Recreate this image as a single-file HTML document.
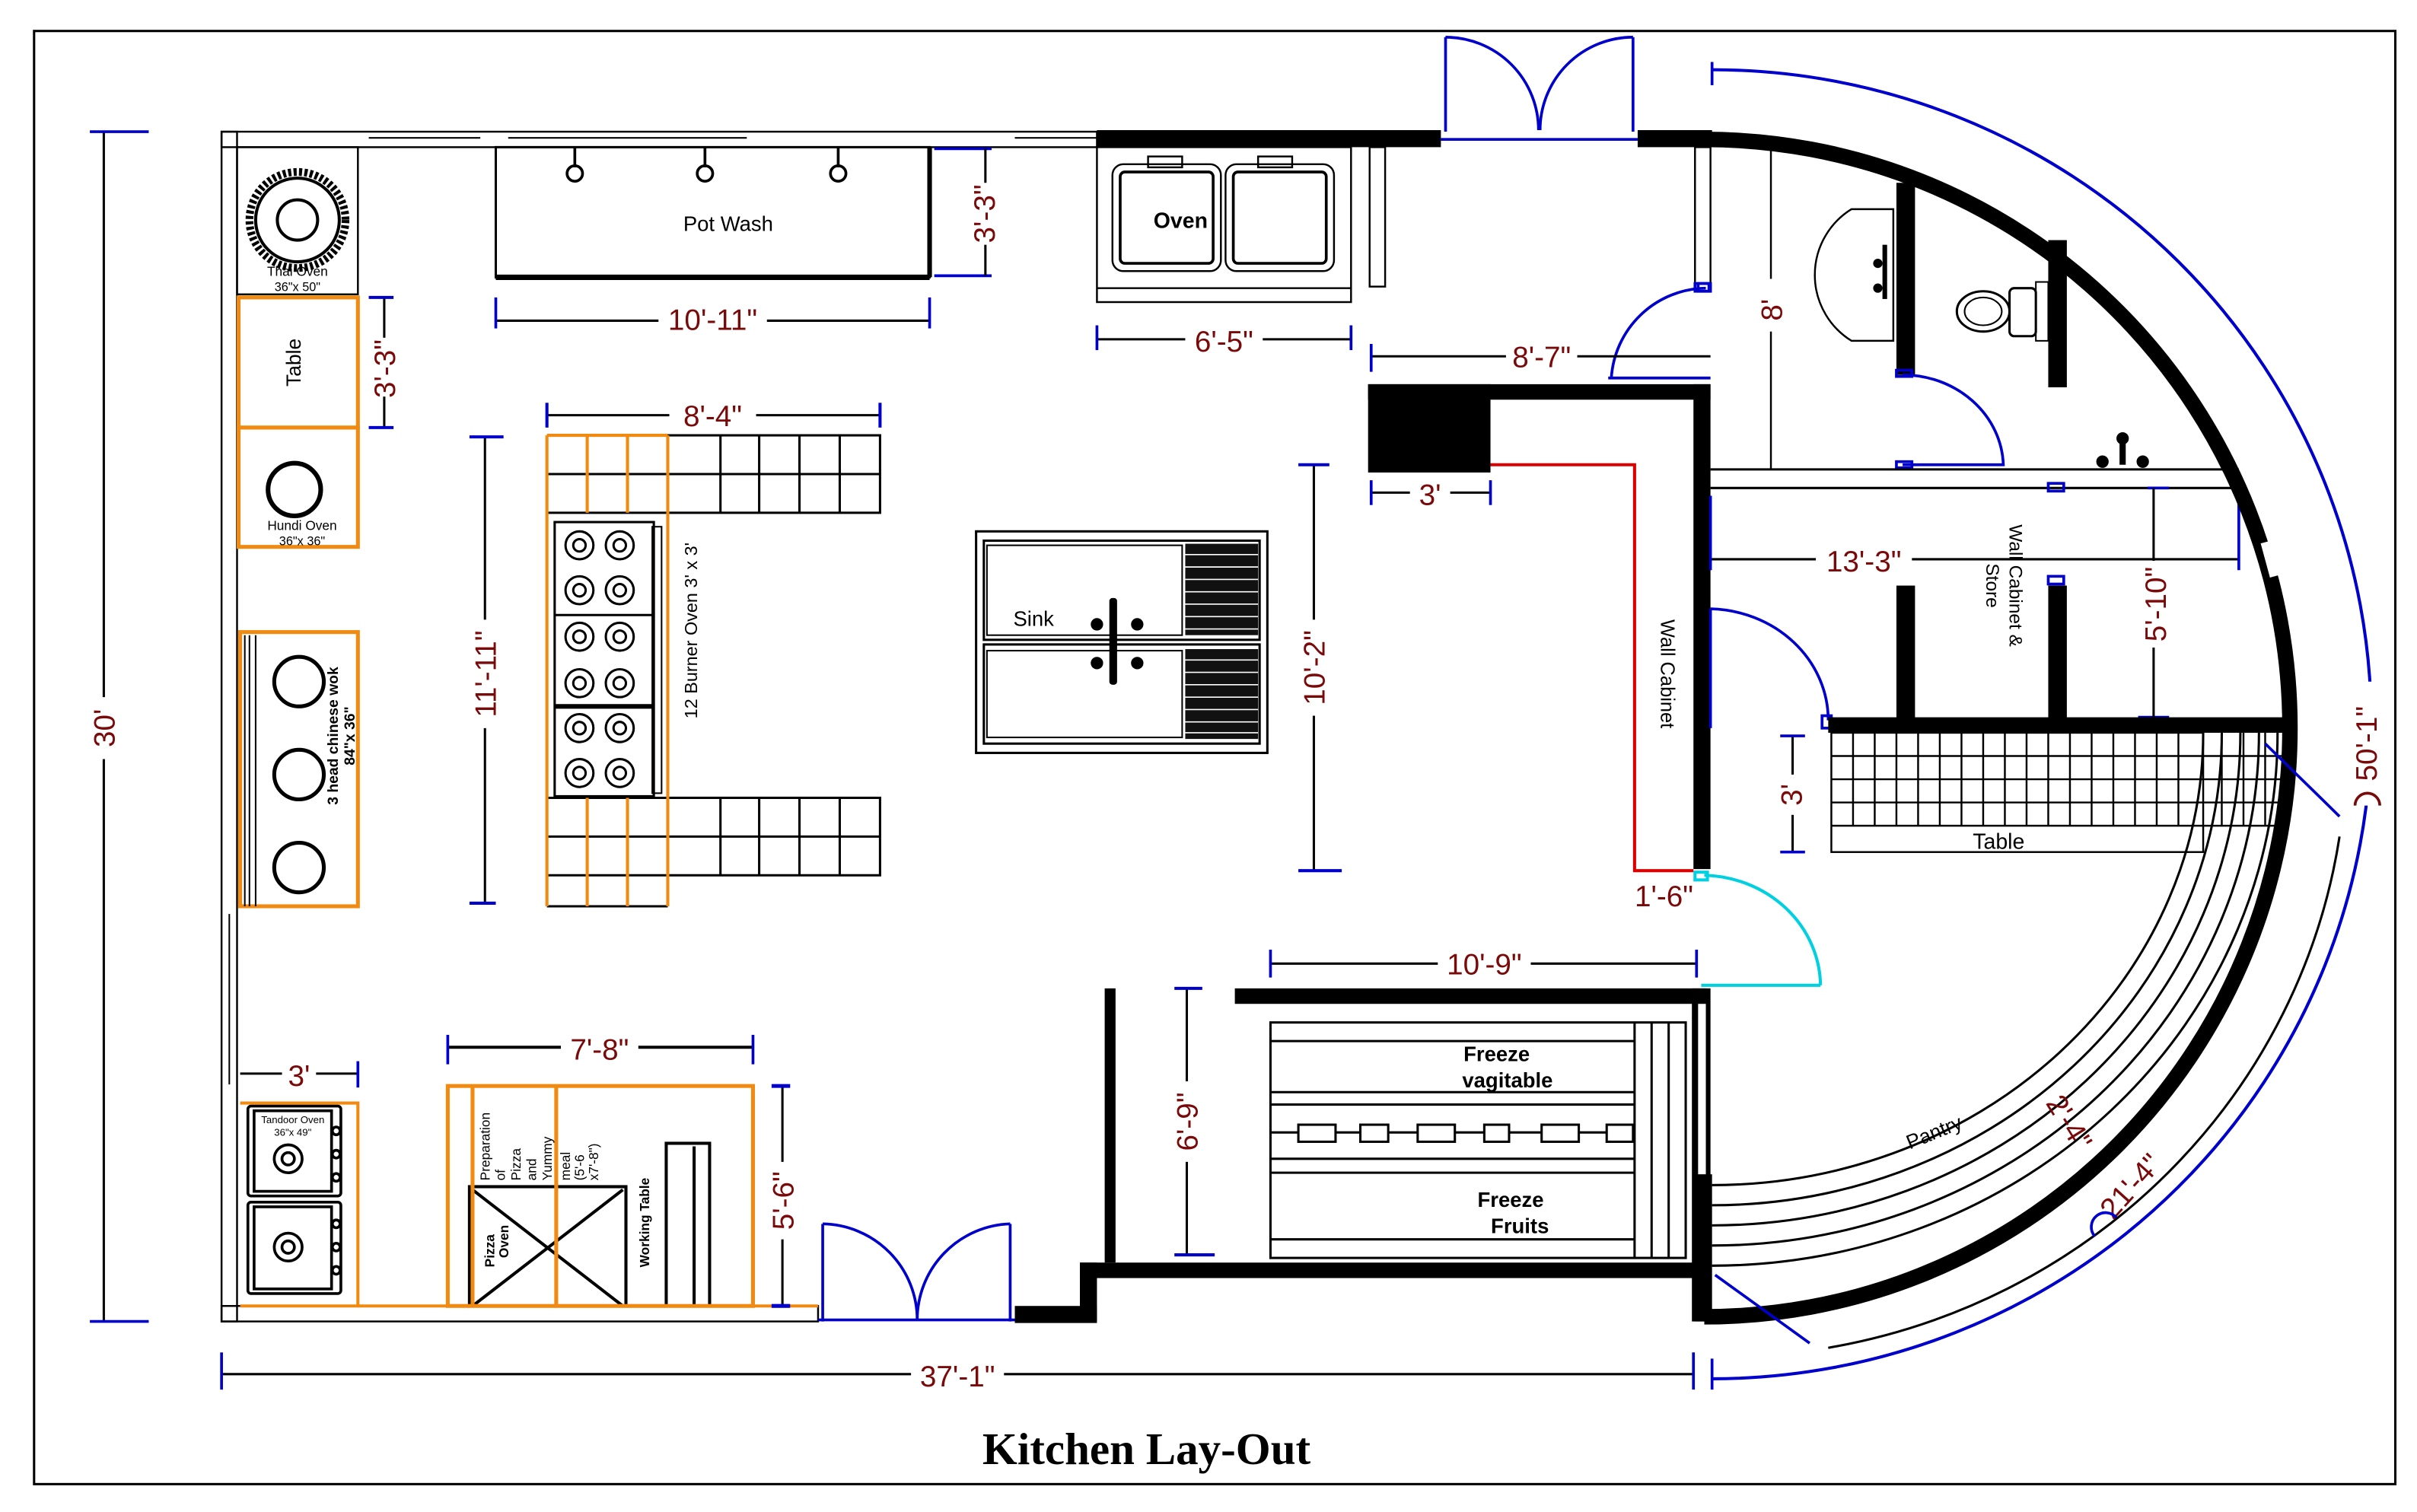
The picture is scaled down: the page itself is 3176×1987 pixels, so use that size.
<!DOCTYPE html>
<html><head><meta charset="utf-8"><style>
html,body{margin:0;padding:0;background:#fff;}
svg{display:block;}
.d{fill:#7a0a0a;font-family:"Liberation Sans",sans-serif;font-size:19px;}
.s{font-family:"Liberation Sans",sans-serif;fill:#000;}
</style></head><body>
<svg width="3176" height="1987" viewBox="0 0 1560 976" preserveAspectRatio="none" xmlns="http://www.w3.org/2000/svg">
<rect x="0" y="0" width="1560" height="976" fill="#fff"/>
<rect x="22" y="20" width="1524" height="938" fill="none" stroke="#000" stroke-width="1.5"/>

<!-- top wall -->
<rect x="143" y="85" width="565" height="10" fill="none" stroke="#000" stroke-width="1.2"/>
<line x1="238" y1="89" x2="310" y2="89" stroke="#000"/><line x1="328" y1="89" x2="482" y2="89" stroke="#000"/><line x1="655" y1="89" x2="708" y2="89" stroke="#000"/>
<rect x="708" y="84" width="222" height="11" fill="#000"/>
<rect x="1057" y="84" width="48" height="11" fill="#000"/>
<!-- top door -->
<g stroke="#0000cc" stroke-width="1.8" fill="none">
<line x1="930" y1="90" x2="1057" y2="90"/>
<line x1="933" y1="85" x2="933" y2="24"/><path d="M933,24 A60,60 0 0 1 993,84"/>
<line x1="1054" y1="85" x2="1054" y2="24"/><path d="M1054,24 A60,60 0 0 0 994,84"/>
</g>
<!-- left wall -->
<rect x="143" y="85" width="10" height="768" fill="none" stroke="#000" stroke-width="1.2"/>
<line x1="148" y1="590" x2="148" y2="700" stroke="#000"/>
<!-- bottom wall -->
<rect x="143" y="843" width="385" height="10" fill="none" stroke="#000" stroke-width="1.2"/>
<rect x="655" y="843" width="53" height="11" fill="#000"/>
<rect x="697" y="815" width="11" height="38" fill="#000"/>
<rect x="697" y="815" width="404" height="10" fill="#000"/>
<rect x="713" y="638" width="7" height="177" fill="#000"/>
<rect x="797" y="638" width="304" height="10" fill="#000"/>
<rect x="1092" y="638" width="12" height="215" fill="#000"/>
<rect x="1096" y="648" width="5" height="160" fill="#fff"/>
<!-- bottom door -->
<g stroke="#0000cc" stroke-width="1.8" fill="none">
<line x1="528" y1="852" x2="655" y2="852"/>
<line x1="531" y1="853" x2="531" y2="790"/><path d="M531,790 A62,62 0 0 1 592,852"/>
<line x1="652" y1="853" x2="652" y2="790"/><path d="M652,790 A62,62 0 0 0 592,852"/>
</g>

<!-- dims: bottom & left -->
<g stroke="#000" stroke-width="1.5"><line x1="143" y1="887" x2="1093" y2="887"/><line x1="67" y1="85" x2="67" y2="853"/></g>
<g stroke="#0000cc" stroke-width="1.8"><line x1="143" y1="873" x2="143" y2="897"/><line x1="1093" y1="873" x2="1093" y2="897"/><line x1="1105" y1="877" x2="1105" y2="897"/><line x1="58" y1="85" x2="96" y2="85"/><line x1="58" y1="853" x2="96" y2="853"/></g>
<rect x="588" y="878" width="60" height="18" fill="#fff"/><text x="618" y="895" class="d" text-anchor="middle">37'-1"</text>
<rect x="58" y="450" width="18" height="40" fill="#fff"/><text class="d" transform="translate(74,470) rotate(-90)" text-anchor="middle">30'</text>

<!-- Thai oven -->
<rect x="153" y="95" width="78" height="95" fill="none" stroke="#000" stroke-width="1.2"/>
<circle cx="192" cy="142" r="31" fill="none" stroke="#000" stroke-width="5" stroke-dasharray="2 1.5"/>
<circle cx="192" cy="142" r="27" fill="none" stroke="#000" stroke-width="2"/>
<circle cx="192" cy="142" r="13" fill="#fff" stroke="#000" stroke-width="2"/>
<text x="192" y="178" class="s" font-size="8.5" text-anchor="middle">Thai Oven</text>
<text x="192" y="188" class="s" font-size="8" text-anchor="middle">36"x 50"</text>
<!-- Table -->
<rect x="154" y="192" width="77" height="84" fill="none" stroke="#f08a10" stroke-width="2.5"/>
<text class="s" font-size="13" transform="translate(194,234) rotate(-90)" text-anchor="middle">Table</text>
<line x1="248" y1="192" x2="248" y2="276" stroke="#000" stroke-width="1.5"/>
<g stroke="#0000cc" stroke-width="2"><line x1="238" y1="192" x2="254" y2="192"/><line x1="238" y1="276" x2="254" y2="276"/></g>
<rect x="240" y="218" width="16" height="38" fill="#fff"/><text class="d" transform="translate(255,238) rotate(-90)" text-anchor="middle">3'-3"</text>
<!-- Hundi -->
<rect x="154" y="276" width="77" height="77" fill="none" stroke="#f08a10" stroke-width="2.5"/>
<circle cx="190" cy="316" r="17" fill="none" stroke="#000" stroke-width="3"/>
<text x="195" y="342" class="s" font-size="8.5" text-anchor="middle">Hundi Oven</text>
<text x="195" y="352" class="s" font-size="8" text-anchor="middle">36"x 36"</text>
<!-- Wok -->
<rect x="155" y="408" width="76" height="177" fill="none" stroke="#f08a10" stroke-width="2.5"/>
<line x1="158" y1="410" x2="158" y2="585" stroke="#000"/><line x1="161" y1="410" x2="161" y2="585" stroke="#000"/><line x1="165" y1="410" x2="165" y2="585" stroke="#000"/>
<circle cx="193" cy="440" r="16" fill="none" stroke="#000" stroke-width="2.5"/>
<circle cx="193" cy="500" r="16" fill="none" stroke="#000" stroke-width="2.5"/>
<circle cx="193" cy="560" r="16" fill="none" stroke="#000" stroke-width="2.5"/>
<text class="s" font-size="9.5" font-weight="bold" transform="translate(218,475) rotate(-90)" text-anchor="middle">3 head chinese wok</text>
<text class="s" font-size="9.5" font-weight="bold" transform="translate(229,475) rotate(-90)" text-anchor="middle">84"x 36"</text>

<!-- 11'-11" -->
<line x1="313" y1="282" x2="313" y2="583" stroke="#000" stroke-width="1.5"/>
<g stroke="#0000cc" stroke-width="2"><line x1="303" y1="282" x2="325" y2="282"/><line x1="303" y1="583" x2="320" y2="583"/></g>
<rect x="300" y="400" width="26" height="70" fill="#fff"/><text class="d" font-size="21" transform="translate(320,435) rotate(-90)" text-anchor="middle">11'-11"</text>
<!-- 8'-4" -->
<line x1="353" y1="268" x2="568" y2="268" stroke="#000" stroke-width="1.5"/>
<g stroke="#0000cc" stroke-width="2"><line x1="353" y1="260" x2="353" y2="276"/><line x1="568" y1="260" x2="568" y2="276"/></g>
<rect x="432" y="258" width="56" height="20" fill="#fff"/><text x="460" y="275" class="d" text-anchor="middle">8'-4"</text>
<!-- grids -->
<g fill="none" stroke="#000" stroke-width="1.5">
<rect x="431" y="281" width="137" height="50"/><line x1="353" y1="306" x2="568" y2="306"/>
<line x1="465" y1="281" x2="465" y2="331"/><line x1="490" y1="281" x2="490" y2="331"/><line x1="516" y1="281" x2="516" y2="331"/><line x1="542" y1="281" x2="542" y2="331"/>
<line x1="353" y1="331" x2="431" y2="331"/>
<rect x="431" y="515" width="137" height="50"/><line x1="353" y1="540" x2="568" y2="540"/><line x1="353" y1="515" x2="431" y2="515"/><line x1="353" y1="565" x2="431" y2="565"/><line x1="353" y1="585" x2="431" y2="585"/>
<line x1="465" y1="515" x2="465" y2="565"/><line x1="490" y1="515" x2="490" y2="565"/><line x1="516" y1="515" x2="516" y2="565"/><line x1="542" y1="515" x2="542" y2="565"/>
</g>
<g stroke="#f08a10" stroke-width="2">
<line x1="353" y1="281" x2="431" y2="281"/><line x1="353" y1="281" x2="353" y2="585"/><line x1="379" y1="281" x2="379" y2="331"/><line x1="405" y1="281" x2="405" y2="331"/><line x1="431" y1="281" x2="431" y2="585"/>
<line x1="379" y1="515" x2="379" y2="585"/><line x1="405" y1="515" x2="405" y2="585"/>
</g>
<!-- burners -->
<rect x="358" y="337" width="64" height="177" fill="#fff" stroke="#000" stroke-width="1.5"/>
<rect x="421" y="340" width="6" height="172" fill="none" stroke="#000"/>
<g fill="none" stroke="#000" stroke-width="1.5">
<circle cx="374" cy="352" r="9"/><circle cx="400" cy="352" r="9"/><circle cx="374" cy="381" r="9"/><circle cx="400" cy="381" r="9"/>
<circle cx="374" cy="411" r="9"/><circle cx="400" cy="411" r="9"/><circle cx="374" cy="441" r="9"/><circle cx="400" cy="441" r="9"/>
<circle cx="374" cy="470" r="9"/><circle cx="400" cy="470" r="9"/><circle cx="374" cy="499" r="9"/><circle cx="400" cy="499" r="9"/>
<circle cx="374" cy="352" r="4"/><circle cx="400" cy="352" r="4"/><circle cx="374" cy="381" r="4"/><circle cx="400" cy="381" r="4"/>
<circle cx="374" cy="411" r="4"/><circle cx="400" cy="411" r="4"/><circle cx="374" cy="441" r="4"/><circle cx="400" cy="441" r="4"/>
<circle cx="374" cy="470" r="4"/><circle cx="400" cy="470" r="4"/><circle cx="374" cy="499" r="4"/><circle cx="400" cy="499" r="4"/>
<line x1="358" y1="397" x2="422" y2="397"/><line x1="358" y1="456" x2="422" y2="456" stroke-width="3"/>
</g>
<text class="s" font-size="11.5" transform="translate(450,407) rotate(-90)" text-anchor="middle">12 Burner Oven 3' x 3'</text>

<!-- Pot wash -->
<rect x="320" y="95" width="280" height="84" fill="none" stroke="#000" stroke-width="1.5"/>
<line x1="320" y1="179" x2="600" y2="179" stroke="#000" stroke-width="3.5"/><line x1="600" y1="95" x2="600" y2="179" stroke="#000" stroke-width="3"/>
<g fill="none" stroke="#000" stroke-width="1.8">
<line x1="371" y1="95" x2="371" y2="108"/><circle cx="371" cy="112" r="5"/>
<line x1="455" y1="95" x2="455" y2="108"/><circle cx="455" cy="112" r="5"/>
<line x1="541" y1="95" x2="541" y2="108"/><circle cx="541" cy="112" r="5"/></g>
<text x="470" y="149" class="s" font-size="13.5" text-anchor="middle">Pot Wash</text>
<line x1="320" y1="207" x2="600" y2="207" stroke="#000" stroke-width="1.5"/>
<g stroke="#0000cc" stroke-width="1.8"><line x1="320" y1="192" x2="320" y2="212"/><line x1="600" y1="192" x2="600" y2="212"/><line x1="603" y1="178" x2="640" y2="178"/><line x1="603" y1="96" x2="640" y2="96"/></g>
<rect x="425" y="196" width="70" height="20" fill="#fff"/><text x="460" y="213" class="d" text-anchor="middle">10'-11"</text>
<line x1="636" y1="96" x2="636" y2="178" stroke="#000" stroke-width="1.5"/>
<rect x="626" y="118" width="20" height="40" fill="#fff"/><text class="d" transform="translate(642,138) rotate(-90)" text-anchor="middle">3'-3"</text>

<!-- Oven -->
<g fill="none" stroke="#000" stroke-width="1.2">
<rect x="708" y="95" width="164" height="100"/><line x1="708" y1="186" x2="872" y2="186"/>
<rect x="718" y="106" width="70" height="69" rx="7"/><rect x="723" y="111" width="60" height="59" rx="3" stroke-width="1.8"/>
<rect x="791" y="106" width="70" height="69" rx="7"/><rect x="796" y="111" width="60" height="59" rx="3" stroke-width="1.8"/>
<rect x="741" y="101" width="22" height="7"/><rect x="812" y="101" width="22" height="7"/>
<rect x="884" y="95" width="10" height="90"/>
</g>
<text x="762" y="147" class="s" font-size="14" font-weight="bold" text-anchor="middle">Oven</text>
<line x1="708" y1="219" x2="872" y2="219" stroke="#000" stroke-width="1.5"/>
<g stroke="#0000cc" stroke-width="1.8"><line x1="708" y1="210" x2="708" y2="226"/><line x1="872" y1="210" x2="872" y2="226"/></g>
<rect x="765" y="210" width="50" height="20" fill="#fff"/><text x="790" y="227" class="d" text-anchor="middle">6'-5"</text>

<!-- right upper walls -->
<rect x="1094" y="95" width="10" height="93" fill="none" stroke="#000" stroke-width="1.2"/>
<g fill="none" stroke="#0000cc" stroke-width="1.8">
<line x1="1038" y1="244" x2="1104" y2="244"/><path d="M1040,244 A62,62 0 0 1 1101,186"/>
<rect x="1096" y="183" width="7" height="5"/></g>
<line x1="885" y1="230" x2="1104" y2="230" stroke="#000" stroke-width="1.5"/>
<g stroke="#0000cc" stroke-width="1.8"><line x1="885" y1="222" x2="885" y2="240"/></g>
<rect x="972" y="220" width="46" height="20" fill="#fff"/><text x="995" y="237" class="d" text-anchor="middle">8'-7"</text>
<rect x="883" y="248" width="221" height="10" fill="#000"/>
<rect x="883" y="248" width="79" height="57" fill="#000"/>
<rect x="1093" y="248" width="11" height="313" fill="#000"/>
<polyline points="962,300 1055,300 1055,562 1093,562" fill="none" stroke="#dd0000" stroke-width="2"/>
<line x1="885" y1="318" x2="962" y2="318" stroke="#000" stroke-width="1.5"/>
<g stroke="#0000cc" stroke-width="1.8"><line x1="885" y1="310" x2="885" y2="326"/><line x1="962" y1="310" x2="962" y2="326"/></g>
<rect x="910" y="308" width="26" height="20" fill="#fff"/><text x="923" y="326" class="d" text-anchor="middle">3'</text>
<text class="s" font-size="12.5" transform="translate(1072,435) rotate(90)" text-anchor="middle">Wall Cabinet</text>
<!-- 10'-2" -->
<line x1="848" y1="300" x2="848" y2="562" stroke="#000" stroke-width="1.5"/>
<g stroke="#0000cc" stroke-width="2"><line x1="838" y1="300" x2="858" y2="300"/><line x1="838" y1="562" x2="866" y2="562"/></g>
<rect x="838" y="400" width="20" height="62" fill="#fff"/><text class="d" transform="translate(855,431) rotate(-90)" text-anchor="middle">10'-2"</text>

<!-- Sink -->
<g fill="none" stroke="#000" stroke-width="1.5">
<rect x="630" y="343" width="188" height="143"/>
<rect x="635" y="349" width="178" height="64"/><rect x="635" y="416" width="178" height="64"/>
<rect x="637" y="352" width="126" height="58" stroke-width="1"/><rect x="637" y="420" width="126" height="56" stroke-width="1"/>
</g>
<rect x="765" y="351" width="47" height="59" fill="#111"/><rect x="765" y="419" width="47" height="58" fill="#111"/>
<g stroke="#fff" stroke-width="0.8">
<line x1="765" y1="358" x2="812" y2="358"/><line x1="765" y1="366" x2="812" y2="366"/><line x1="765" y1="374" x2="812" y2="374"/><line x1="765" y1="382" x2="812" y2="382"/><line x1="765" y1="390" x2="812" y2="390"/><line x1="765" y1="398" x2="812" y2="398"/><line x1="765" y1="406" x2="812" y2="406"/>
<line x1="765" y1="426" x2="812" y2="426"/><line x1="765" y1="434" x2="812" y2="434"/><line x1="765" y1="442" x2="812" y2="442"/><line x1="765" y1="450" x2="812" y2="450"/><line x1="765" y1="458" x2="812" y2="458"/><line x1="765" y1="466" x2="812" y2="466"/><line x1="765" y1="473" x2="812" y2="473"/>
</g>
<g fill="#000"><rect x="716" y="386" width="5" height="56" rx="2"/><circle cx="708" cy="403" r="4"/><circle cx="734" cy="403" r="4"/><circle cx="708" cy="428" r="4"/><circle cx="734" cy="428" r="4"/></g>
<text x="654" y="404" class="s" font-size="13.5">Sink</text>

<!-- 1'-6" and cyan door -->
<text x="1074" y="585" class="d" font-size="17" text-anchor="middle">1'-6"</text>
<g fill="none" stroke="#00d0e0" stroke-width="2">
<line x1="1098" y1="636" x2="1175" y2="636"/><path d="M1175,636 A77,72 0 0 0 1100,565"/><rect x="1094" y="563" width="8" height="5"/></g>
<!-- 10'-9" -->
<line x1="820" y1="622" x2="1095" y2="622" stroke="#000" stroke-width="1.5"/>
<g stroke="#0000cc" stroke-width="1.8"><line x1="820" y1="613" x2="820" y2="631"/><line x1="1095" y1="613" x2="1095" y2="631"/></g>
<rect x="928" y="612" width="60" height="20" fill="#fff"/><text x="958" y="629" class="d" text-anchor="middle">10'-9"</text>
<!-- 6'-9" -->
<line x1="766" y1="638" x2="766" y2="810" stroke="#000" stroke-width="1.5"/>
<g stroke="#0000cc" stroke-width="2"><line x1="758" y1="638" x2="776" y2="638"/><line x1="758" y1="810" x2="784" y2="810"/></g>
<rect x="756" y="698" width="20" height="52" fill="#fff"/><text class="d" transform="translate(773,724) rotate(-90)" text-anchor="middle">6'-9"</text>
<!-- Freezer -->
<g fill="none" stroke="#000" stroke-width="1.5">
<rect x="820" y="660" width="268" height="152"/>
<line x1="820" y1="672" x2="1055" y2="672"/><line x1="820" y1="705" x2="1055" y2="705"/><line x1="820" y1="713" x2="1055" y2="713"/>
<line x1="820" y1="748" x2="1055" y2="748"/><line x1="820" y1="757" x2="1055" y2="757"/><line x1="820" y1="800" x2="1055" y2="800"/>
<line x1="1055" y1="660" x2="1055" y2="812"/><line x1="1066" y1="660" x2="1066" y2="812"/><line x1="1077" y1="660" x2="1077" y2="812"/>
<line x1="820" y1="731" x2="1055" y2="731"/>
</g>
<g fill="#fff" stroke="#000" stroke-width="1.5">
<rect x="838" y="726" width="24" height="11"/><rect x="878" y="726" width="18" height="11"/><rect x="915" y="726" width="24" height="11"/><rect x="958" y="726" width="16" height="11"/><rect x="995" y="726" width="24" height="11"/><rect x="1037" y="726" width="17" height="11"/>
</g>
<text x="966" y="685" class="s" font-size="13.5" font-weight="bold" text-anchor="middle">Freeze</text>
<text x="973" y="702" class="s" font-size="13.5" font-weight="bold" text-anchor="middle">vagitable</text>
<text x="975" y="779" class="s" font-size="13.5" font-weight="bold" text-anchor="middle">Freeze</text>
<text x="981" y="796" class="s" font-size="13.5" font-weight="bold" text-anchor="middle">Fruits</text>

<!-- bottom-left -->
<line x1="155" y1="693" x2="231" y2="693" stroke="#000" stroke-width="1.5"/>
<g stroke="#0000cc" stroke-width="1.8"><line x1="231" y1="685" x2="231" y2="702"/></g>
<rect x="182" y="683" width="22" height="20" fill="#fff"/><text x="193" y="701" class="d" text-anchor="middle">3'</text>
<polyline points="155,712 231,712 231,843 155,843" fill="none" stroke="#f08a10" stroke-width="2"/>
<line x1="231" y1="843" x2="528" y2="843" stroke="#f08a10" stroke-width="2"/>
<g fill="none" stroke="#000" stroke-width="1.8">
<rect x="160" y="714" width="60" height="58" rx="2"/><rect x="164" y="717" width="50" height="52"/>
<rect x="160" y="776" width="60" height="59" rx="2"/><rect x="164" y="779" width="50" height="53"/>
<circle cx="186" cy="748" r="9"/><circle cx="186" cy="748" r="4"/><circle cx="186" cy="805" r="9"/><circle cx="186" cy="805" r="4"/>
<circle cx="217" cy="730" r="2.5"/><circle cx="217" cy="745" r="2.5"/><circle cx="217" cy="760" r="2.5"/>
<circle cx="217" cy="790" r="2.5"/><circle cx="217" cy="805" r="2.5"/><circle cx="217" cy="820" r="2.5"/>
</g>
<text x="189" y="725" class="s" font-size="6.5" text-anchor="middle">Tandoor Oven</text>
<text x="189" y="733" class="s" font-size="6.5" text-anchor="middle">36"x 49"</text>
<line x1="289" y1="676" x2="486" y2="676" stroke="#000" stroke-width="2"/>
<g stroke="#0000cc" stroke-width="1.8"><line x1="289" y1="668" x2="289" y2="687"/><line x1="486" y1="668" x2="486" y2="687"/></g>
<rect x="362" y="666" width="50" height="22" fill="#fff"/><text x="387" y="684" class="d" text-anchor="middle">7'-8"</text>
<g fill="none" stroke="#000" stroke-width="2">
<rect x="303" y="766" width="101" height="77"/><line x1="305" y1="768" x2="402" y2="843"/><line x1="402" y1="768" x2="305" y2="843"/>
<rect x="430" y="738" width="28" height="105"/><line x1="448" y1="740" x2="448" y2="843"/>
</g>
<g fill="none" stroke="#f08a10" stroke-width="2.5"><rect x="289" y="701" width="197" height="142"/><line x1="305" y1="701" x2="305" y2="843"/><line x1="359" y1="701" x2="359" y2="843"/></g>
<g class="s" font-family="Liberation Serif" font-size="8.5">
<text transform="translate(316,762) rotate(-90)">Preparation</text><text transform="translate(326,762) rotate(-90)">of</text><text transform="translate(336,762) rotate(-90)">Pizza</text><text transform="translate(346,762) rotate(-90)">and</text><text transform="translate(356,762) rotate(-90)">Yummy</text><text transform="translate(368,762) rotate(-90)">meal</text><text transform="translate(377,762) rotate(-90)">(5'-6</text><text transform="translate(386,762) rotate(-90)">x7'-8")</text>
</g>
<text class="s" font-size="8.5" font-weight="bold" transform="translate(319,818) rotate(-90)">Pizza</text>
<text class="s" font-size="8.5" font-weight="bold" transform="translate(328,812) rotate(-90)">Oven</text>
<text class="s" font-size="8.5" font-weight="bold" transform="translate(419,818) rotate(-90)">Working Table</text>
<line x1="505" y1="701" x2="505" y2="843" stroke="#000" stroke-width="1.5"/>
<g stroke="#0000cc" stroke-width="2.5"><line x1="498" y1="701" x2="510" y2="701"/><line x1="498" y1="843" x2="510" y2="843"/></g>
<rect x="495" y="750" width="20" height="50" fill="#fff"/><text class="d" transform="translate(512,775) rotate(-90)" text-anchor="middle">5'-6"</text>

<!-- right rooms -->
<line x1="1143" y1="95" x2="1143" y2="303" stroke="#000" stroke-width="1.2"/>
<rect x="1133" y="180" width="20" height="34" fill="#fff"/><text class="d" transform="translate(1150,200) rotate(-90)" text-anchor="middle">8'</text>
<path d="M1222,135 L1195,135 A50,50 0 0 0 1195,220 L1222,220 Z" fill="none" stroke="#000" stroke-width="1.2"/>
<g fill="#000"><circle cx="1212" cy="170" r="3"/><circle cx="1212" cy="186" r="3"/><rect x="1215" y="158" width="3" height="35"/></g>
<rect x="1224" y="118" width="12" height="124" fill="#000"/>
<rect x="1322" y="155" width="12" height="95" fill="#000"/>
<ellipse cx="1280" cy="201" rx="17" ry="13" fill="none" stroke="#000" stroke-width="1.5"/><ellipse cx="1280" cy="201" rx="12" ry="9" fill="none" stroke="#000"/>
<rect x="1297" y="186" width="17" height="31" rx="3" fill="none" stroke="#000" stroke-width="1.5"/><rect x="1314" y="182" width="8" height="38" fill="none" stroke="#000"/>
<g fill="none" stroke="#0000cc" stroke-width="1.8"><path d="M1228,300 L1293,300 A65,60 0 0 0 1228,242"/><rect x="1224" y="239" width="10" height="4"/><rect x="1224" y="298" width="10" height="4"/><rect x="1094" y="183" width="10" height="5"/></g>
<g fill="#000"><rect x="1368" y="280" width="4" height="20"/><circle cx="1370" cy="283" r="4"/><circle cx="1357" cy="298" r="4"/><circle cx="1383" cy="298" r="4"/></g>
<line x1="1104" y1="303" x2="1445" y2="303" stroke="#000" stroke-width="1.5"/>
<line x1="1104" y1="315" x2="1445" y2="315" stroke="#000" stroke-width="1.5"/>
<line x1="1104" y1="361" x2="1445" y2="361" stroke="#000" stroke-width="1.5"/>
<g stroke="#0000cc" stroke-width="1.8"><line x1="1104" y1="320" x2="1104" y2="368"/><line x1="1445" y1="320" x2="1445" y2="368"/><line x1="1386" y1="315" x2="1400" y2="315"/><line x1="1380" y1="463" x2="1400" y2="463"/></g>
<rect x="1172" y="351" width="62" height="20" fill="#fff"/><text x="1203" y="369" class="d" text-anchor="middle">13'-3"</text>
<line x1="1390" y1="315" x2="1390" y2="463" stroke="#000" stroke-width="1.5"/>
<rect x="1380" y="362" width="22" height="56" fill="#fff"/><text class="d" transform="translate(1398,390) rotate(-90)" text-anchor="middle">5'-10"</text>
<text class="s" font-size="12" transform="translate(1297,378) rotate(90)" text-anchor="middle">Wall Cabinet &amp;</text>
<text class="s" font-size="12" transform="translate(1282,378) rotate(90)" text-anchor="middle">Store</text>
<rect x="1224" y="378" width="12" height="88" fill="#000"/><rect x="1322" y="378" width="12" height="88" fill="#000"/>
<g fill="none" stroke="#0000cc" stroke-width="1.8"><path d="M1104,393 A78,72 0 0 1 1180,465"/><line x1="1104" y1="393" x2="1104" y2="470"/><rect x="1176" y="462" width="6" height="8"/><rect x="1322" y="372" width="10" height="5"/><rect x="1322" y="312" width="10" height="5"/></g>
<rect x="1180" y="463" width="298" height="10" fill="#000"/>
<!-- table grid -->
<g fill="none" stroke="#000" stroke-width="1.2">
<rect x="1182" y="473" width="240" height="77"/>
<line x1="1182" y1="488" x2="1475" y2="488"/><line x1="1182" y1="503" x2="1475" y2="503"/><line x1="1182" y1="518" x2="1475" y2="518"/><line x1="1182" y1="533" x2="1475" y2="533"/>
</g>
<g stroke="#000" stroke-width="1.2">
<line x1="1196" y1="473" x2="1196" y2="533"/><line x1="1210" y1="473" x2="1210" y2="533"/><line x1="1224" y1="473" x2="1224" y2="533"/><line x1="1238" y1="473" x2="1238" y2="533"/><line x1="1252" y1="473" x2="1252" y2="533"/><line x1="1266" y1="473" x2="1266" y2="533"/><line x1="1280" y1="473" x2="1280" y2="533"/><line x1="1294" y1="473" x2="1294" y2="533"/><line x1="1308" y1="473" x2="1308" y2="533"/><line x1="1322" y1="473" x2="1322" y2="533"/><line x1="1336" y1="473" x2="1336" y2="533"/><line x1="1350" y1="473" x2="1350" y2="533"/><line x1="1364" y1="473" x2="1364" y2="533"/><line x1="1378" y1="473" x2="1378" y2="533"/><line x1="1392" y1="473" x2="1392" y2="533"/><line x1="1406" y1="473" x2="1406" y2="533"/><line x1="1434" y1="473" x2="1434" y2="533"/><line x1="1448" y1="473" x2="1448" y2="533"/><line x1="1462" y1="473" x2="1462" y2="533"/>
</g>
<text x="1290" y="548" class="s" font-family="Liberation Serif" font-size="14" text-anchor="middle">Table</text>
<line x1="1157" y1="475" x2="1157" y2="550" stroke="#000" stroke-width="1.5"/>
<g stroke="#0000cc" stroke-width="1.8"><line x1="1149" y1="475" x2="1165" y2="475"/><line x1="1149" y1="550" x2="1165" y2="550"/></g>
<rect x="1147" y="500" width="20" height="26" fill="#fff"/><text class="d" transform="translate(1163,513) rotate(-90)" text-anchor="middle">3'</text>

<!-- pantry arcs -->
<g fill="none" stroke="#000" stroke-width="1.5">
<path d="M1422,473 A317,292 0 0 1 1105,765"/>
<path d="M1434,473 A329,305 0 0 1 1105,778"/>
<path d="M1446,473 A341,318 0 0 1 1105,791"/>
<path d="M1458,473 A353,331 0 0 1 1105,804"/>
<path d="M1470,473 A365,344 0 0 1 1105,817"/>
<path d="M1510,540 A405,395 0 0 1 1180,870"/>
</g>
<rect x="1094" y="758" width="11" height="95" fill="#000"/>
<!-- curved main wall -->
<path d="M1100,90 A378,380 0 0 1 1100,850" fill="none" stroke="#000" stroke-width="10"/>
<g stroke="#fff" stroke-width="6"><line x1="1296" y1="130" x2="1306" y2="138"/><line x1="1462" y1="350" x2="1468" y2="372"/></g>
<g stroke="#0000cc" stroke-width="1.8"><line x1="1462" y1="480" x2="1510" y2="527"/><line x1="1107" y1="823" x2="1168" y2="867"/></g>
<!-- outer blue arc -->
<path d="M1105,45 A425,422 0 0 1 1105,890" fill="none" stroke="#0000cc" stroke-width="2"/>
<line x1="1105" y1="40" x2="1105" y2="55" stroke="#0000cc" stroke-width="1.8"/>
<rect x="1515" y="440" width="22" height="80" fill="#fff"/>
<text class="d" font-size="20" transform="translate(1534,480) rotate(-90)" text-anchor="middle">50'-1"</text>
<path d="M1520,520 A8,8 0 0 1 1536,520" fill="none" stroke="#7a0a0a" stroke-width="1.8"/>
<text class="d" font-size="19" transform="translate(1380,770) rotate(-48)" text-anchor="middle">21'-4"</text>
<path d="M1352,798 A8,8 0 0 1 1366,786" fill="none" stroke="#0000cc" stroke-width="1.8"/>
<text class="d" font-size="17" transform="translate(1330,728) rotate(58)" text-anchor="middle">2'-4"</text>
<text class="s" font-family="Liberation Serif" font-size="13" transform="translate(1250,735) rotate(-22)" text-anchor="middle">Pantry</text>

<text x="740" y="945" font-family="Liberation Serif" font-size="29" font-weight="bold" text-anchor="middle">Kitchen Lay-Out</text>
</svg>
</body></html>
